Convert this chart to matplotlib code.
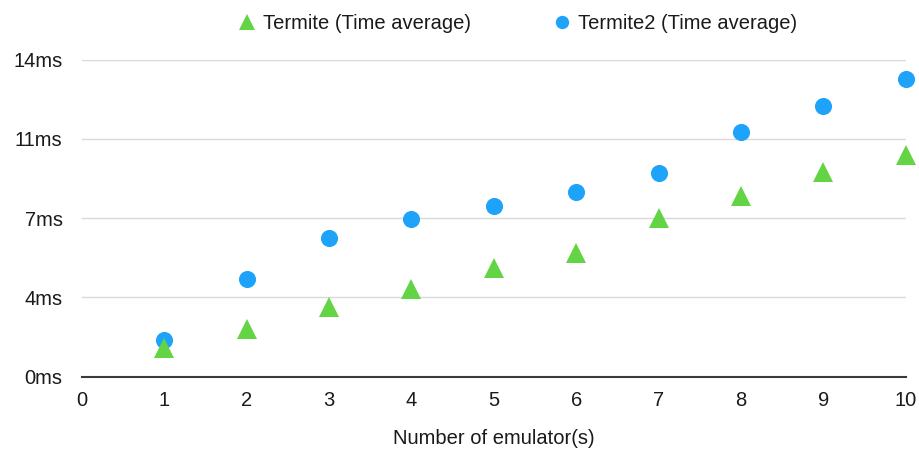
import matplotlib
matplotlib.use('Agg')
import matplotlib.pyplot as plt

plt.rcParams['font.family'] = ['Liberation Sans', 'DejaVu Sans']

# 에뮬레이터 수별 평균 처리 시간 (ms)
emulators = [1, 2, 3, 4, 5, 6, 7, 8, 9, 10]
termite_ms = [1.28, 2.12, 3.08, 3.88, 4.79, 5.47, 7.02, 7.98, 9.04, 9.77]
termite2_ms = [1.62, 4.30, 6.12, 6.95, 7.56, 8.16, 9.01, 10.81, 11.96, 13.15]

x_ticks = [0, 1, 2, 3, 4, 5, 6, 7, 8, 9, 10]
y_ticks = [0, 3.5, 7, 10.5, 14]
y_labels = ['0ms', '4ms', '7ms', '11ms', '14ms']

green = '#63d444'
blue = '#1da3fa'

fig = plt.figure(figsize=(9.19, 4.5), dpi=100)
ax = fig.add_axes([82 / 919, 73.3 / 450, (905.7 - 82) / 919, (376.7 - 59.7) / 450])

ax.plot(emulators, termite_ms, linestyle='none', marker='^', markersize=14.5,
        color=green, markeredgewidth=0, label='Termite (Time average)',
        zorder=3, clip_on=False)
ax.plot(emulators, termite2_ms, linestyle='none', marker='o', markersize=12.3,
        color=blue, markeredgewidth=0, label='Termite2 (Time average)',
        zorder=2, clip_on=False)

ax.set_xlim(0, 10)
ax.set_ylim(0, 14)
ax.set_xticks(x_ticks)
ax.set_yticks(y_ticks)
ax.set_yticklabels(y_labels)
ax.tick_params(axis='both', length=0, labelsize=14.5, colors='#1a1a1a')
ax.tick_params(axis='y', pad=14)
ax.tick_params(axis='x', pad=10)

ax.grid(axis='y', color='#d9d9d9', linewidth=1.0)
ax.set_axisbelow(True)
for side in ['top', 'right', 'left']:
    ax.spines[side].set_visible(False)
ax.spines['bottom'].set_color('#3a3a3a')
ax.spines['bottom'].set_linewidth(1.5)
ax.spines['bottom'].set_zorder(4)

ax.set_xlabel('Number of emulator(s)', fontsize=14.5, color='#1a1a1a', labelpad=14)

handles, labels = ax.get_legend_handles_labels()
leg = fig.legend(handles, labels, loc='upper center', bbox_to_anchor=(517 / 919, 1.01),
                 ncol=2, frameon=False, fontsize=14.5, markerscale=0.78,
                 handletextpad=0.3, columnspacing=4.0, handlelength=1.0)
for t in leg.get_texts():
    t.set_color('#1a1a1a')

plt.savefig('out.png', dpi=100)
